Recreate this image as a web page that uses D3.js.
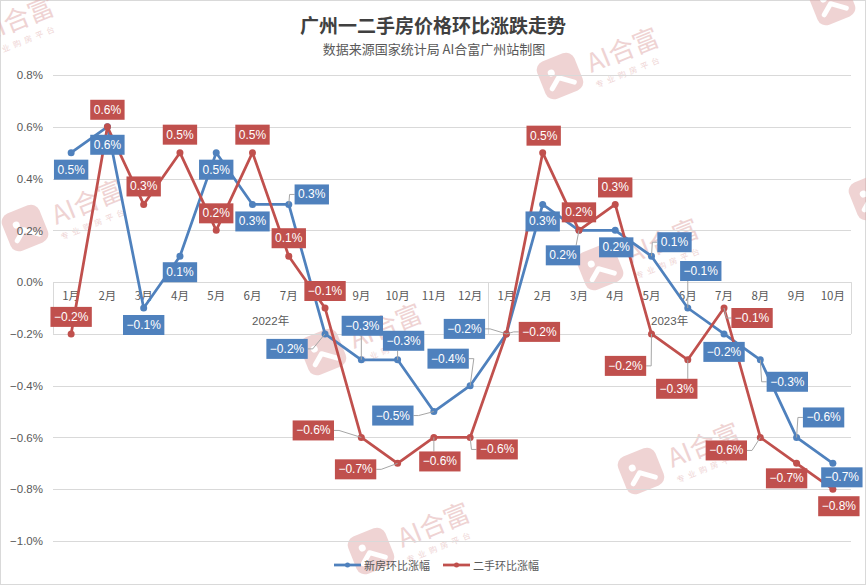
<!DOCTYPE html>
<html><head><meta charset="utf-8">
<script src="https://cdn.jsdelivr.net/npm/d3@7/dist/d3.min.js"></script>
<style>body{margin:0;background:#fff} svg{display:block}</style>
</head><body><svg id="c" width="866" height="585"></svg>
<script>
// ---- data ----
const months = ["1月","2月","3月","4月","5月","6月","7月","8月","9月","10月","11月","12月",
                "1月","2月","3月","4月","5月","6月","7月","8月","9月","10月"];
const years = ["2022年","2023年"];
const yearCounts = [12,10];
const newHome = [0.5,0.6,-0.1,0.1,0.5,0.3,0.3,-0.2,-0.3,-0.3,-0.5,-0.4,-0.2,0.3,0.2,0.2,0.1,-0.1,-0.2,-0.3,-0.6,-0.7];
const resale  = [-0.2,0.6,0.3,0.5,0.2,0.5,0.1,-0.1,-0.6,-0.7,-0.6,-0.6,-0.2,0.5,0.2,0.3,-0.2,-0.3,-0.1,-0.6,-0.7,-0.8];
const yTicks = [-1.0,-0.8,-0.6,-0.4,-0.2,0.0,0.2,0.4,0.6,0.8];
const seriesNames = ["新房环比涨幅","二手环比涨幅"];
const titleText = "广州一二手房价格环比涨跌走势";
const subtitleText = "数据来源国家统计局 AI合富广州站制图";

// ---- layout (label offsets relative to point, px; third item = leader line) ----
const blueLbl = [[0,17],[0,18],[0,17],[0,16],[0,17],[0,17],[23,-10,1],[-38,15,1],[1,-34,1],[6,-19,1],[-41,4,1],[-22,-27,1],[-42,-5,1],[0,17],[-16,25,1],[1,17],[23,-14,1],[13,-37,1],[0,18],[27,22,1],[27,-20,1],[9,14]];
const redLbl = [[0,-17],[0,-17],[0,-18],[0,-18],[0,-17],[0,-18],[0,-18],[0,-17],[-48,-7,1],[-42,6,1],[6,24,1],[27,12,1],[33,-2,1],[1,-17],[0,-18],[0,-17],[-26,32,1],[-11,29,1],[28,10,1],[-34,13,1],[-10,15],[6,17]];
const watermarks = [[-45,45],[560,76],[832,2],[872,197],[25,228],[323,352],[600,267],[641,471],[371,551]];

const BLUE = "#4f81bd", RED = "#c0504d";
const FONT = "'Liberation Sans','Noto Sans CJK SC',sans-serif";
const CJK = "'Noto Sans CJK SC','Liberation Sans',sans-serif";

const svg = d3.select("#c");
svg.append("rect").attr("x",0.5).attr("y",0.5).attr("width",865).attr("height",584)
  .attr("fill","#fff").attr("stroke","#d9d9d9");

// watermarks
function watermark(x,y){
  const c = "#e0a8a8";
  const w = svg.append("g").attr("transform",`translate(${x},${y}) rotate(-22)`).attr("opacity",0.5);
  w.append("rect").attr("x",-20).attr("y",-20).attr("width",40).attr("height",40).attr("rx",9).attr("fill",c);
  w.append("circle").attr("cx",-7).attr("cy",-6).attr("r",3.5).attr("fill","#fff");
  w.append("path").attr("d","M-12,9 L-2,1 L11,11").attr("stroke","#fff").attr("stroke-width",5)
    .attr("fill","none").attr("stroke-linecap","round").attr("stroke-linejoin","round");
  w.append("text").attr("x",30).attr("y",9).text("AI合富").attr("font-size",26)
    .attr("font-family",CJK).attr("fill",c);
  w.append("text").attr("x",66).attr("y",25).attr("text-anchor","middle").text("专业购房平台")
    .attr("font-size",8).attr("letter-spacing",4).attr("font-family",CJK).attr("fill",c);
}
watermarks.forEach(p=>watermark(p[0],p[1]));

// scales
const x = d3.scaleBand().domain(d3.range(months.length)).range([53,851]).padding(0);
const y = d3.scaleLinear().domain([-1.0,0.8]).range([541,75]);
const cx = i => x(i) + x.bandwidth()/2;
const fmt = v => (v.toFixed(1) + "%").replace("-","−");

// gridlines + y axis
const yAxis = d3.axisLeft(y).tickValues(yTicks).tickSize(-(851-53)).tickFormat(fmt).tickPadding(10);
const ga = svg.append("g").attr("transform","translate(53,0)").call(yAxis);
ga.select(".domain").remove();
ga.selectAll(".tick line").attr("stroke","#d9d9d9").attr("shape-rendering","crispEdges");
ga.selectAll(".tick text").attr("fill","#595959").attr("font-size",11.5).attr("font-family",FONT);

// category axis (at zero line)
const xAxis = d3.axisBottom(x).tickSize(0).tickPadding(10).tickFormat(i=>months[i]);
const gx = svg.append("g").attr("transform",`translate(0,${y(0)})`).call(xAxis);
gx.select(".domain").remove();
gx.selectAll(".tick text").attr("fill","#595959").attr("font-size",11.5).attr("font-family",CJK);

// group separators and year labels
let start = 0;
const bounds = [0];
yearCounts.forEach(c=>{start+=c; bounds.push(start);});
bounds.forEach(b=>{
  const xx = b < months.length ? x(b) : x.range()[1];
  svg.append("line").attr("x1",Math.round(xx)+0.5).attr("x2",Math.round(xx)+0.5)
    .attr("y1",y(0)).attr("y2",y(-0.2)).attr("stroke","#d9d9d9");
});
years.forEach((yr,k)=>{
  const a = x(bounds[k]);
  const b = bounds[k+1] < months.length ? x(bounds[k+1]) : x.range()[1];
  svg.append("text").attr("x",(a+b)/2).attr("y",y(0)+39).attr("text-anchor","middle")
    .attr("dominant-baseline","central").attr("fill","#595959").attr("font-size",11.5)
    .attr("font-family",FONT).text(yr);
});

// lines
const series = [{vals:newHome,color:BLUE,lbl:blueLbl},{vals:resale,color:RED,lbl:redLbl}];
const line = d3.line().x((d,i)=>cx(i)).y(d=>y(d));
series.forEach(s=>{
  svg.append("path").attr("d",line(s.vals)).attr("fill","none").attr("stroke",s.color)
    .attr("stroke-width",2.75).attr("stroke-linejoin","round");
  svg.append("g").selectAll("circle").data(s.vals).join("circle")
    .attr("cx",(d,i)=>cx(i)).attr("cy",d=>y(d)).attr("r",3.5).attr("fill",s.color);
});

// labels
series.forEach(s=>{
  const g = svg.append("g");
  s.vals.forEach((v,i)=>{
    const px = cx(i), py = y(v);
    const [dx,dy,lead] = s.lbl[i];
    const lx = px+dx, ly = py+dy;
    const t = g.append("text").attr("x",lx).attr("y",ly).attr("text-anchor","middle")
      .attr("dominant-baseline","central").attr("fill","#fff").attr("font-size",12)
      .attr("font-family",FONT).text(fmt(v));
    const w = t.node().getComputedTextLength()+7, h = 20;
    if(lead){
      let path;
      if(Math.abs(dx) > w/2){
        const ex = dx>0 ? lx-w/2 : lx+w/2;
        const sx = dx>0 ? ex-5 : ex+5;
        path = `M${px},${py}L${sx},${ly}L${ex},${ly}`;
      } else {
        const ey = dy>0 ? ly-h/2 : ly+h/2;
        const ex = Math.max(lx-w/2+4, Math.min(lx+w/2-4, px));
        path = `M${px},${py}L${ex},${ey}`;
      }
      g.insert("path","text").attr("d",path).attr("fill","none").attr("stroke","#a6a6a6").attr("stroke-width",1);
    }
    g.insert("rect","text").attr("x",lx-w/2).attr("y",ly-h/2).attr("width",w).attr("height",h).attr("fill",s.color);
    t.raise();
  });
});

// title
svg.append("text").attr("x",433).attr("y",24).attr("text-anchor","middle").attr("dominant-baseline","central")
  .attr("font-size",19).attr("font-weight","bold").attr("fill","#404040").attr("font-family",CJK).text(titleText);
svg.append("text").attr("x",434).attr("y",48).attr("text-anchor","middle").attr("dominant-baseline","central")
  .attr("font-size",13).attr("fill","#595959").attr("font-family",CJK).text(subtitleText);

// legend
const legX = [334,443];
seriesNames.forEach((n,k)=>{
  const c = k===0?BLUE:RED;
  const g = svg.append("g").attr("transform",`translate(${legX[k]},565)`);
  g.append("line").attr("x1",0).attr("x2",27).attr("stroke",c).attr("stroke-width",2.75);
  g.append("circle").attr("cx",13.5).attr("r",2.5).attr("fill",c);
  g.append("text").attr("x",30).attr("dominant-baseline","central").attr("font-size",11)
    .attr("fill","#595959").attr("font-family",CJK).text(n);
});
</script></body></html>
